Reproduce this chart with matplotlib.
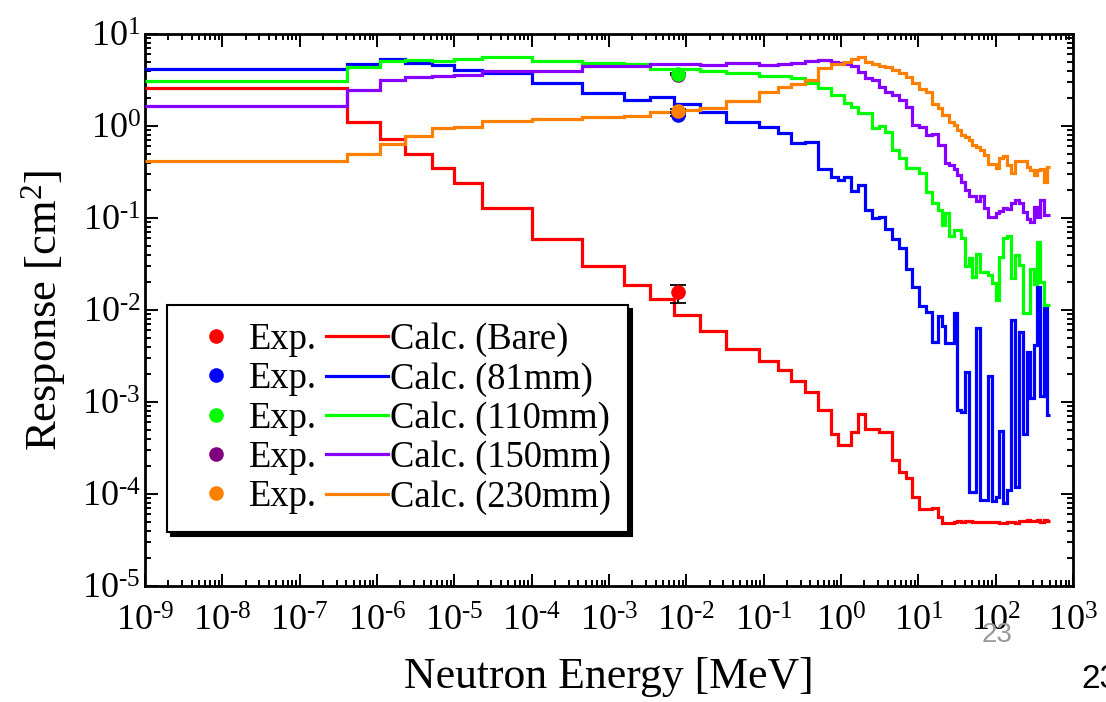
import matplotlib
matplotlib.use("Agg")
import matplotlib.pyplot as plt
from matplotlib.lines import Line2D
from matplotlib.ticker import LogLocator, FuncFormatter, NullFormatter
import math

plt.rcParams['font.family'] = ['Liberation Serif', 'DejaVu Serif']
plt.rcParams['mathtext.fontset'] = 'custom'
plt.rcParams['mathtext.rm'] = 'Liberation Serif'
plt.rcParams['mathtext.it'] = 'Liberation Serif:italic'
plt.rcParams['mathtext.bf'] = 'Liberation Serif:bold'

# ---------------- data ----------------
edges = [1e-9, 4.14e-7, 1.1e-6, 2.3e-6, 5.1e-6, 1.0e-5, 2.27e-5, 1.0e-4, 4.47e-4, 1.58e-3,
         3.34e-3, 7.0e-3, 1.51e-2, 3.24e-2, 8.8e-2, 0.153, 0.228, 0.338, 0.498, 0.75,
         0.914, 1.10, 1.36, 1.66, 2.02, 2.52, 3.06, 3.74, 4.57, 5.56,
         6.92, 8.36, 10.3, 12.4, 15.0, 18.0, 20.2, 22.3, 25.2, 28.6,
         31.9, 35.5, 39.7, 44.8, 50.0, 56.3, 63.4, 71.4, 80.5, 89.8,
         100, 112, 125, 141, 160, 180, 203, 228, 255, 281,
         310, 344, 379, 418, 462, 502]

calc_bare = [2.57, 1.11, 0.73, 0.50, 0.35, 0.24, 0.127, 0.059, 0.030, 0.0187,
             0.0133, 0.0089, 0.0059, 0.0038, 0.0028, 0.0022, 0.0017, 0.00129, 0.00081, 0.00045,
             0.00034, 0.00034, 0.00047, 0.00074, 0.00051, 0.00051, 0.00047, 0.00047, 0.000234, 0.000175,
             0.000148, 9.3e-5, 6.9e-5, 6.9e-5, 7.1e-5, 5.6e-5, 4.9e-5, 4.9e-5, 4.9e-5, 5.0e-5,
             5.1e-5, 5.0e-5, 5.1e-5, 5.1e-5, 5.0e-5, 5.0e-5, 5.0e-5, 5.0e-5, 5.0e-5, 5.0e-5,
             5.0e-5, 4.9e-5, 4.9e-5, 5.0e-5, 5.0e-5, 4.8e-5, 5.1e-5, 5.1e-5, 5.2e-5, 5.1e-5,
             5.1e-5, 5.2e-5, 5.0e-5, 5.2e-5, 5.1e-5]

calc_81 = [4.17, 4.72, 5.3, 4.8, 4.6, 4.07, 3.74, 2.91, 2.27, 1.9,
           2.05, 1.73, 1.43, 1.11, 0.98, 0.84, 0.65, 0.67, 0.34, 0.28,
           0.26, 0.28, 0.196, 0.23, 0.123, 0.10, 0.103, 0.075, 0.059, 0.047,
           0.028, 0.018, 0.011, 0.0096, 0.0045, 0.0085, 0.0067, 0.0044, 0.0044, 0.0092,
           8.2e-4, 7.8e-4, 0.00214, 1.06e-4, 1.06e-4, 0.0063, 8.6e-5, 8.6e-5, 0.0019, 8.3e-5,
           9.3e-5, 4.8e-4, 7.9e-5, 1.1e-4, 0.0077, 1.2e-4, 0.0058, 4.5e-4, 0.0035, 0.0011,
           0.0042, 0.018, 0.00115, 0.0113, 7.3e-4]

calc_110 = [3.08, 4.34, 5.09, 5.22, 5.13, 5.35, 5.67, 5.09, 4.79, 4.72,
            4.15, 4.15, 3.98, 3.74, 3.5, 3.5, 3.35, 2.91, 2.57, 2.17,
            2.17, 1.77, 1.62, 1.40, 1.40, 0.94, 1.0, 0.87, 0.55, 0.45,
            0.346, 0.346, 0.306, 0.19, 0.145, 0.122, 0.084, 0.112, 0.063, 0.074,
            0.074, 0.060, 0.030, 0.037, 0.0226, 0.041, 0.026, 0.026, 0.024, 0.0195,
            0.013, 0.038, 0.061, 0.063, 0.022, 0.040, 0.031, 0.0093, 0.0093, 0.028,
            0.019, 0.055, 0.020, 0.0113, 0.0113]

calc_150 = [1.66, 2.46, 3.16, 3.44, 3.52, 3.58, 3.98, 3.98, 4.49, 4.49,
            4.72, 4.72, 4.6, 4.88, 4.6, 4.72, 4.88, 5.13, 5.22, 4.92,
            4.79, 4.72, 4.49, 3.89, 3.3, 3.16, 2.68, 2.36, 2.17, 1.92,
            1.62, 1.03, 0.97, 0.80, 0.82, 0.62, 0.62, 0.40, 0.375, 0.34,
            0.29, 0.248, 0.20, 0.174, 0.174, 0.152, 0.174, 0.13, 0.103, 0.103,
            0.112, 0.12, 0.127, 0.125, 0.145, 0.157, 0.145, 0.117, 0.098, 0.091,
            0.133, 0.103, 0.157, 0.107, 0.107]

calc_230 = [0.417, 0.50, 0.64, 0.78, 0.94, 0.97, 1.14, 1.18, 1.24, 1.28,
            1.43, 1.50, 1.56, 1.88, 2.32, 2.68, 2.84, 3.16, 4.24, 4.72,
            4.72, 5.0, 5.3, 5.59, 5.0, 4.72, 4.45, 4.34, 4.06, 3.74,
            3.44, 2.91, 2.51, 2.36, 1.75, 1.56, 1.32, 1.32, 1.11, 1.03,
            0.91, 0.80, 0.75, 0.70, 0.62, 0.585, 0.55, 0.48, 0.39, 0.39,
            0.346, 0.45, 0.47, 0.375, 0.306, 0.42, 0.42, 0.42, 0.36, 0.33,
            0.29, 0.33, 0.34, 0.248, 0.36]

exp_energy = 7.9e-3
exp_labels = ['Bare', '81mm', '110mm', '150mm', '230mm']
exp_values = [0.0158, 1.32, 3.67, 3.62, 1.47]
exp_err_low = [0.0040, 0.05, 0.08, 0.08, 0.05]
exp_err_high = [0.0029, 0.05, 0.08, 0.08, 0.05]

line_colors = ['#ff0000', '#0000ff', '#00ff00', '#8800ff', '#ff8000']
marker_colors = ['#ff0000', '#0000ff', '#00ff00', '#800080', '#ff8000']
calc_series = [calc_bare, calc_81, calc_110, calc_150, calc_230]

# ---------------- figure ----------------
W, H = 1106, 702
fig = plt.figure(figsize=(W / 100, H / 100), dpi=100)
ax = fig.add_axes([145 / W, 1 - 586 / H, (1073 - 145) / W, (586 - 34) / H])
ax.set_xscale('log')
ax.set_yscale('log')
ax.set_xlim(1e-9, 1e3)
ax.set_ylim(1e-5, 1e1)

for vals, c in zip(calc_series, line_colors):
    ax.stairs(vals, edges, baseline=None, color=c, lw=2.3, zorder=3)

# experimental points (purple drawn first so green covers it)
order = [0, 3, 1, 2, 4]
for i in order:
    ax.errorbar([exp_energy], [exp_values[i]],
                yerr=[[exp_err_low[i]], [exp_err_high[i]]],
                fmt='o', color=marker_colors[i], markersize=9.5,
                ecolor='black', elinewidth=1.3, capsize=6, capthick=1.3, zorder=5)


def pow_label(v, pos):
    e = int(round(math.log10(v)))
    if e < 0:
        return r'$\mathdefault{10^{\text{-}%d}}$' % (-e)
    return r'$\mathdefault{10^{%d}}$' % e


# axes styling
for sp in ax.spines.values():
    sp.set_linewidth(2.0)
ax.xaxis.set_major_locator(LogLocator(base=10, numticks=20))
ax.xaxis.set_minor_locator(LogLocator(base=10, subs=range(2, 10), numticks=20))
ax.yaxis.set_major_locator(LogLocator(base=10, numticks=20))
ax.yaxis.set_minor_locator(LogLocator(base=10, subs=range(2, 10), numticks=20))
ax.xaxis.set_major_formatter(FuncFormatter(pow_label))
ax.yaxis.set_major_formatter(FuncFormatter(pow_label))
ax.xaxis.set_minor_formatter(NullFormatter())
ax.yaxis.set_minor_formatter(NullFormatter())
ax.tick_params(which='both', direction='in', top=True, right=True, width=1.4)
ax.tick_params(which='major', length=9)
ax.tick_params(which='minor', length=4.5)
ax.tick_params(axis='x', which='major', labelsize=26, pad=14)
ax.tick_params(axis='y', which='major', labelsize=26, pad=3)

ax.set_xlabel('Neutron Energy [MeV]', fontsize=31.5, labelpad=13)
ax.set_ylabel('Response [cm$^2$]', fontsize=32, labelpad=10)

# legend
exp_handles = [Line2D([], [], marker='o', linestyle='none', color=c, markersize=9.5)
               for c in marker_colors]
calc_handles = [Line2D([], [], color=c, lw=2.3) for c in line_colors]
labels = ['Exp.'] * 5 + ['Calc. (%s)' % s for s in exp_labels]
leg = ax.legend(exp_handles + calc_handles, labels, ncol=2,
                loc='upper left', bbox_to_anchor=((167 - 145) / 928, (586 - 305) / 552),
                borderaxespad=0, fontsize=26.3, frameon=True, fancybox=False,
                edgecolor='black', framealpha=1, handlelength=1.7, handletextpad=0.05,
                columnspacing=0.25, labelspacing=0.13, borderpad=0.48,
                shadow={'ox': 3, 'oy': -3, 'color': 'black', 'alpha': 1})
leg.get_frame().set_linewidth(1.5)
leg.set_zorder(10)

# slide page numbers
fig.text(997 / W, 1 - 635 / H, '23', fontsize=20, color='#999999',
         family='Liberation Sans', ha='center', va='center')
fig.text(1081 / W, 1 - 680 / H, '23', fontsize=24, color='black',
         family='Liberation Sans', ha='left', va='center')

fig.savefig('out.png', dpi=100)
